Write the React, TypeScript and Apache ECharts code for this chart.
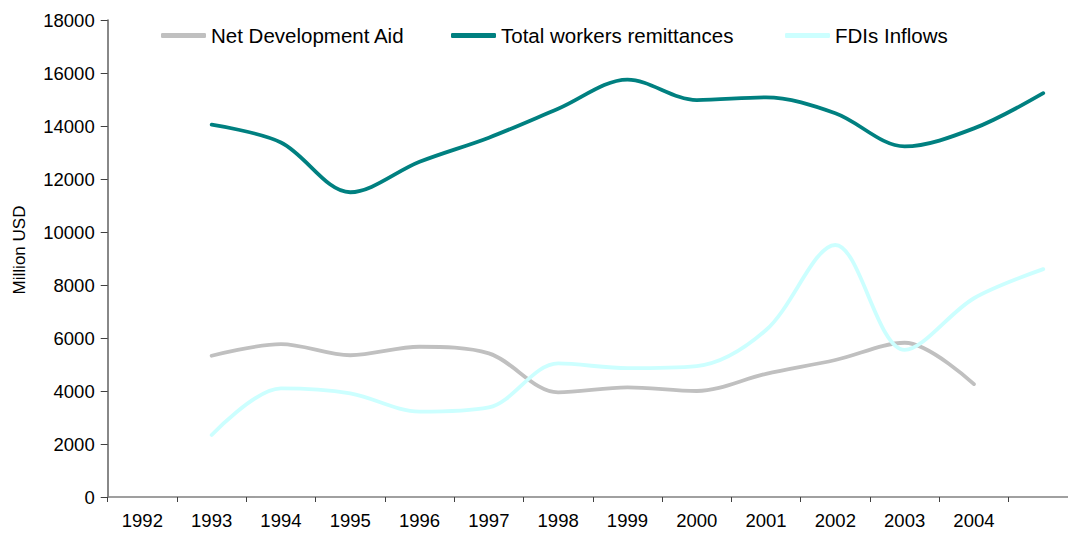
import React, { useEffect, useRef } from "react";
import * as echarts from "echarts";

const categories = ["1992", "1993", "1994", "1995", "1996", "1997", "1998", "1999", "2000", "2001", "2002", "2003", "2004", ""];
const netDevelopmentAid = [null, 5330, 5770, 5350, 5670, 5420, 3950, 4140, 4000, 4650, 5170, 5820, 4260, null];
const workersRemittances = [null, 14050, 13380, 11500, 12650, 13560, 14650, 15750, 14980, 15080, 14480, 13230, 13910, 15240];
const fdiInflows = [null, 2340, 4100, 3910, 3220, 3380, 5040, 4860, 4940, 6300, 9510, 5550, 7500, 8600];

const seriesNames = ["Net Development Aid", "Total workers remittances", "FDIs Inflows"];
const seriesColors = ["#c0c0c0", "#008080", "#ccffff"];
const legendLefts = [161, 451, 785];

const FONT = "'Liberation Sans', Arial, sans-serif";

export default function App() {
  const ref = useRef<HTMLDivElement>(null);
  useEffect(() => {
    if (!ref.current) return;
    const chart = echarts.init(ref.current, undefined, { renderer: "svg" });
    const datas = [netDevelopmentAid, workersRemittances, fdiInflows];
    chart.setOption({
      animation: false,
      backgroundColor: "#ffffff",
      textStyle: { fontFamily: FONT },
      legend: seriesNames.map((n, i) => ({
        data: [n],
        left: legendLefts[i],
        top: 25,
        padding: 0,
        icon: "roundRect",
        itemWidth: 45,
        itemHeight: 5,
        textStyle: { fontFamily: FONT, fontSize: 20.5, color: "#000" },
      })),
      grid: { left: 107.7, top: 20, right: 2.1, bottom: 37, containLabel: false },
      xAxis: {
        type: "category",
        data: categories,
        boundaryGap: true,
        axisLine: { lineStyle: { color: "#808080", width: 1.5 } },
        axisTick: { show: true, interval: 0, length: 5, lineStyle: { color: "#404040", width: 1 } },
        axisLabel: { interval: 0, margin: 14, fontSize: 18.5, color: "#000", fontFamily: FONT },
        splitLine: { show: false },
      },
      yAxis: {
        type: "value",
        min: 0,
        max: 18000,
        interval: 2000,
        axisLine: { show: true, lineStyle: { color: "#606060", width: 1.5 } },
        axisTick: { show: true, length: 7, lineStyle: { color: "#404040", width: 1 } },
        axisLabel: {
          margin: 13,
          fontSize: 18.5,
          color: "#000",
          fontFamily: FONT,
          formatter: (v: number) => String(v),
        },
        splitLine: { show: false },
      },
      graphic: [
        {
          type: "text",
          x: 19,
          y: 250,
          rotation: Math.PI / 2,
          style: {
            text: "Million USD",
            fontSize: 17,
            fontFamily: FONT,
            fill: "#000",
            align: "center",
            verticalAlign: "middle",
          },
        },
      ],
      series: seriesNames.map((n, i) => ({
        name: n,
        type: "line",
        data: datas[i],
        smooth: 0.33,
        showSymbol: false,
        symbol: "none",
        connectNulls: false,
        color: seriesColors[i],
        lineStyle: { color: seriesColors[i], width: 3.8, cap: "round", join: "round" },
        itemStyle: { color: seriesColors[i] },
      })),
    });
    return () => chart.dispose();
  }, []);
  return (
    <div style={{ position: "absolute", left: 0, top: 0, width: 1068, height: 534, overflow: "hidden" }}>
      <div ref={ref} style={{ width: 1080, height: 534 }} />
    </div>
  );
}
